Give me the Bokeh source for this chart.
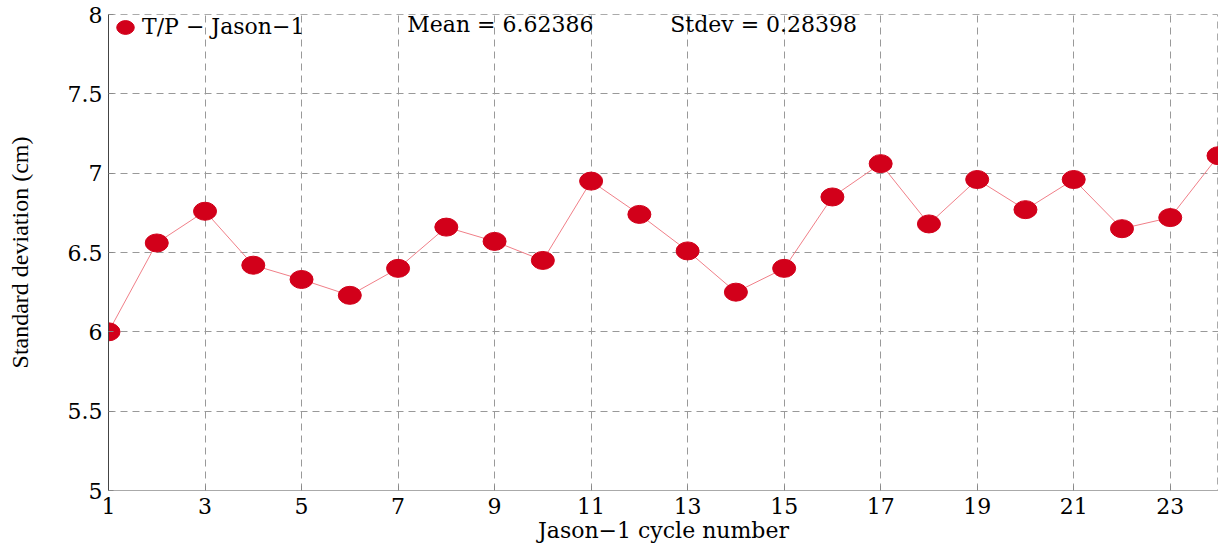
from bokeh.plotting import figure
from bokeh.models import FixedTicker, Range1d, Label, Legend, LegendItem
from bokeh.embed import file_html
from bokeh.resources import INLINE

# ---- data ----
cycles = list(range(1, 25))
std_dev = [6.00, 6.56, 6.76, 6.42, 6.33, 6.23, 6.40, 6.66, 6.57, 6.45, 6.95, 6.74,
           6.51, 6.25, 6.40, 6.85, 7.06, 6.68, 6.96, 6.77, 6.96, 6.65, 6.72, 7.11]
x_ticks = [1, 3, 5, 7, 9, 11, 13, 15, 17, 19, 21, 23]
y_ticks = [5, 5.5, 6, 6.5, 7, 7.5, 8]
y_tick_labels = ["5", "5.5", "6", "6.5", "7", "7.5", "8"]
series_name = "T/P \u2212 Jason\u22121"
mean_text = "Mean = 6.62386"
stdev_text = "Stdev = 0.28398"

FONT = "DejaVu Serif"
RED = "#d2001a"

p = figure(width=1218, height=545, output_backend="svg", toolbar_location=None,
           x_range=Range1d(1, 24), y_range=Range1d(5, 8),
           min_border_left=108, min_border_top=14, min_border_bottom=54, min_border_right=0)

p.line(cycles, std_dev, line_color="#f07f88", line_width=1)
r = p.ellipse(x=cycles, y=std_dev, width=23, height=18, width_units="screen",
              height_units="screen", fill_color=RED, line_color=RED)

legend = Legend(items=[LegendItem(label=series_name, renderers=[r])], location="top_left",
                margin=0, padding=0, border_line_color=None, background_fill_alpha=0,
                glyph_width=34, glyph_height=22, label_standoff=0,
                label_text_font=FONT, label_text_font_size="22px", label_height=22,
                label_text_color="black")
p.add_layout(legend)

for txt, xx in [(mean_text, 7.19), (stdev_text, 12.64)]:
    p.add_layout(Label(x=xx, y=7.935, text=txt, text_font=FONT, text_font_size="22px",
                       text_baseline="middle", text_color="black"))

p.xaxis.ticker = FixedTicker(ticks=x_ticks)
p.yaxis.ticker = FixedTicker(ticks=y_ticks)
p.yaxis.major_label_overrides = {t: l for t, l in zip(y_ticks, y_tick_labels)}

p.xaxis.axis_label = "Jason\u22121 cycle number"
p.yaxis.axis_label = "Standard deviation (cm)"
for ax in (p.xaxis, p.yaxis):
    ax.major_label_text_font = FONT
    ax.major_label_text_font_size = "22px"
    ax.major_label_text_color = "black"
    ax.axis_label_text_font_style = "normal"
    ax.axis_label_text_color = "black"
    ax.minor_tick_line_color = None
    ax.major_tick_out = 0
    ax.major_tick_in = 5
    ax.major_tick_line_color = "#888888"
p.xaxis.axis_label_text_font = FONT
p.xaxis.axis_label_text_font_size = "22px"
p.yaxis.axis_label_text_font = "Liberation Serif"
p.yaxis.axis_label_text_font_size = "24px"
p.xaxis.major_label_standoff = 7
p.xaxis.axis_label_standoff = 1
p.yaxis.major_label_standoff = 6
p.yaxis.axis_label_standoff = 32

p.yaxis.axis_line_color = "#444444"
p.xaxis.axis_line_color = "#aaaaaa"

p.grid.grid_line_color = "#999999"
p.grid.grid_line_dash = "7 5"
p.grid.grid_line_width = 1
p.outline_line_color = "#aaaaaa"
p.outline_line_dash = "7 5"
p.background_fill_color = "white"
p.border_fill_color = "white"

open("out.html", "w").write(file_html(p, INLINE))
